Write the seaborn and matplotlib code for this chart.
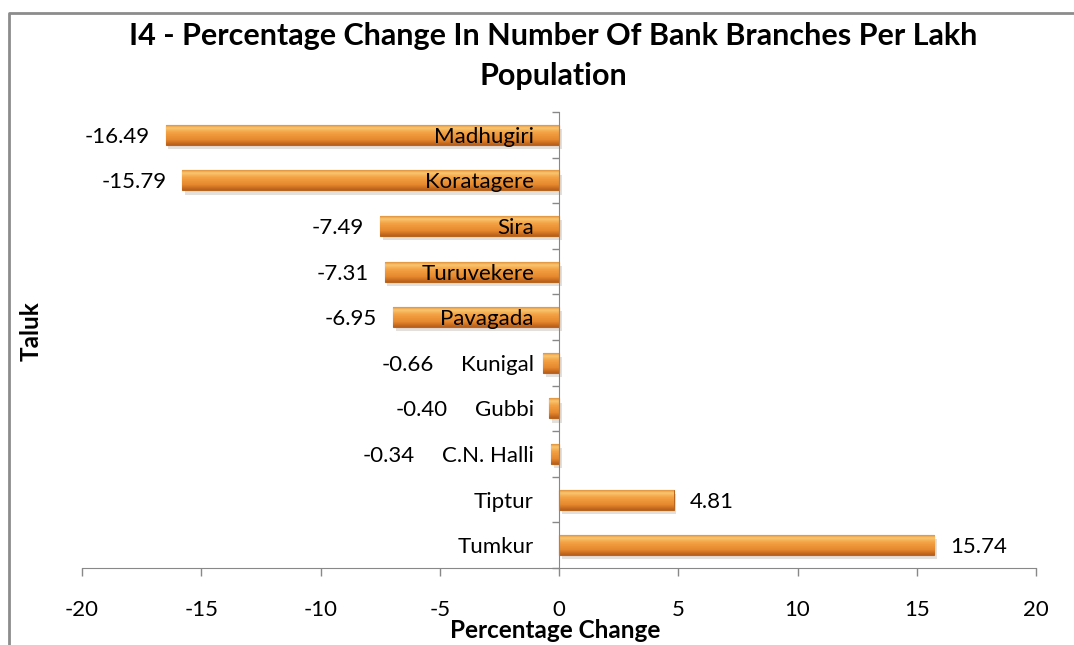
import numpy as np
import pandas as pd
import seaborn as sns
import matplotlib.pyplot as plt
import matplotlib.patheffects as pe
from matplotlib.colors import LinearSegmentedColormap
from matplotlib.lines import Line2D

# data (top to bottom)
taluks = ['Madhugiri', 'Koratagere', 'Sira', 'Turuvekere', 'Pavagada',
          'Kunigal', 'Gubbi', 'C.N. Halli', 'Tiptur', 'Tumkur']
changes = [-16.49, -15.79, -7.49, -7.31, -6.95, -0.66, -0.40, -0.34, 4.81, 15.74]
xticks = [-20, -15, -10, -5, 0, 5, 10, 15, 20]

df = pd.DataFrame({'Taluk': taluks, 'Change': changes})

sns.set_style('white')
plt.rcParams['font.family'] = ['Lato', 'DejaVu Sans']
plt.rcParams['text.color'] = 'black'
FS = 16

fig = plt.figure(figsize=(10.74, 6.45), dpi=100)
ax = fig.add_axes([82 / 1074, 1 - 568 / 645, (1036 - 82) / 1074, (568 - 112) / 645])

sns.barplot(data=df, x='Change', y='Taluk', color='#E8892E', saturation=1,
            width=0.44, ax=ax, edgecolor='#B8651F', linewidth=0.8)

# orange gradient fill clipped to each bar
bar_cmap = LinearSegmentedColormap.from_list(
    'bar', [(0, '#D9822E'), (0.18, '#FAC66E'), (0.4, '#F3A144'),
            (0.75, '#E6882E'), (1, '#B85F1A')])
grad = np.linspace(0, 1, 64).reshape(-1, 1)
for p in ax.patches:
    x0, y0, w, h = p.get_x(), p.get_y(), p.get_width(), p.get_height()
    xa, xb = min(x0, x0 + w), max(x0, x0 + w)
    im = ax.imshow(grad, extent=[xa, xb, y0 + h, y0], aspect='auto',
                   cmap=bar_cmap, zorder=1.1, interpolation='bilinear')
    im.set_clip_path(p)
    p.set_path_effects([pe.SimplePatchShadow(offset=(2, -3), alpha=0.15), pe.Normal()])

ax.set_axisbelow(False)  # category names sit on top of the bars
ax.set_xlim(-20, 20)
ax.set_ylim(len(taluks) - 0.5, -0.5)
ax.set_xticks(xticks)
ax.set_xticklabels([str(t) for t in xticks])
ax.set_yticks(range(len(taluks)))
ax.set_yticklabels(taluks)
ax.set_yticks(np.arange(-0.5, len(taluks)), minor=True)
ax.tick_params(axis='y', which='major', length=0, pad=18, labelsize=FS, labelcolor='black')
ax.tick_params(axis='y', which='minor', left=True, length=5, color='#888888', width=1)
ax.tick_params(axis='x', bottom=True, length=6, color='#888888', width=1, pad=17,
               labelsize=FS, labelcolor='black')

for s in ['top', 'right']:
    ax.spines[s].set_visible(False)
ax.spines['left'].set_position(('data', 0))
ax.spines['left'].set_color('#888888')
ax.spines['bottom'].set_color('#888888')
ax.set_xlabel('')
ax.set_ylabel('')

# value labels: beyond the bar end, but kept clear of the category label
fig.canvas.draw()
renderer = fig.canvas.get_renderer()
inv = ax.transData.inverted()
labels = ax.get_yticklabels()
for i, v in enumerate(changes):
    bar_px = ax.transData.transform((v, i))[0]
    if v < 0:
        lab_left = labels[i].get_window_extent(renderer).x0
        right_px = min(bar_px - 16, lab_left - 27)
        ax.text(inv.transform((right_px, 0))[0], i, f'{v:.2f}',
                ha='right', va='center_baseline', fontsize=FS)
    else:
        ax.text(inv.transform((bar_px + 16, 0))[0], i, f'{v:.2f}',
                ha='left', va='center_baseline', fontsize=FS)

fig.text(553.5 / 1074, 1 - 45 / 645,
         'I4 - Percentage Change In Number Of Bank Branches Per Lakh',
         ha='center', va='baseline', fontsize=22, fontweight='bold')
fig.text(553.5 / 1074, 1 - 85 / 645, 'Population',
         ha='center', va='baseline', fontsize=22, fontweight='bold')
fig.text(31 / 1074, 1 - 331 / 645, 'Taluk', rotation=90, ha='center', va='center',
         fontsize=17.5, fontweight='bold')
fig.text(555 / 1074, 1 - 638 / 645, 'Percentage Change', ha='center', va='baseline',
         fontsize=17.5, fontweight='bold')

# chart frame (left and top edges visible)
fig.add_artist(Line2D([9 / 1074, 9 / 1074, 1.01], [-0.01, 1 - 13 / 645, 1 - 13 / 645],
                      transform=fig.transFigure, color='#8C8C8C', lw=2))

fig.savefig('out.png', dpi=100)
